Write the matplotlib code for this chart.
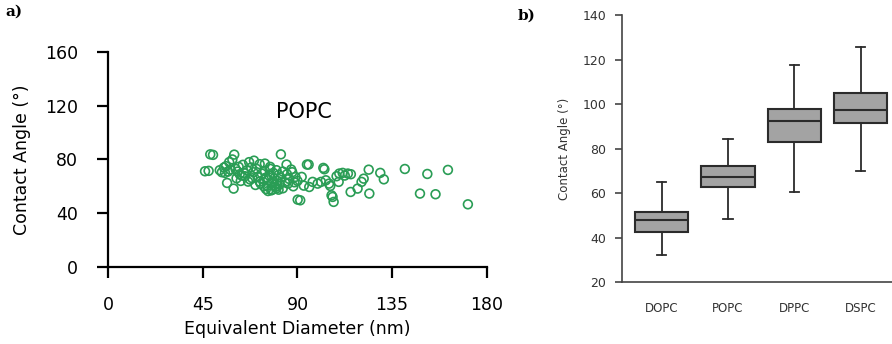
import matplotlib
matplotlib.use("Agg")
import matplotlib.pyplot as plt

# panel a) POPC vesicles: equivalent diameter (nm) vs contact angle (deg)
diameter = [46.0, 47.7, 48.5, 49.8, 59.9, 82.1, 59.6, 69.3, 74.5, 84.8,
            94.5, 95.3, 102.3, 102.8, 90.1, 91.3, 105.6, 106.2, 107.2, 106.7,
            123.9, 129.4, 131.1, 124.2, 115.3, 118.6, 120.5, 121.5, 114.0, 115.4,
            141.1, 151.8, 161.6, 148.3, 155.7, 171.1, 109.9, 108.6, 109.6, 97.2,
            95.6, 99.6, 101.2, 103.5, 105.0, 111.5, 112.5, 93.0, 92.0, 88.5,
            53.0, 54.0, 55.0, 56.0, 57.0, 57.5, 58.0, 59.0, 60.5, 61.0,
            62.0, 62.5, 63.0, 64.0, 64.5, 65.0, 66.0, 66.5, 67.0, 68.0,
            68.5, 69.0, 70.0, 70.5, 71.0, 72.0, 72.5, 73.0, 74.0, 74.5,
            75.0, 75.5, 76.0, 76.5, 77.0, 77.5, 78.0, 78.5, 79.0, 79.5,
            80.0, 80.5, 81.0, 81.5, 82.0, 83.0, 84.0, 85.0, 86.0, 87.0,
            88.0, 89.0, 90.0, 76.0, 78.0, 80.0, 74.0, 72.0, 79.0, 81.0,
            77.0, 75.0, 83.0, 85.5, 87.5, 67.5, 63.5, 56.5, 55.5, 61.5]
angle = [71.2, 71.5, 83.8, 83.4, 83.6, 83.8, 58.3, 79.1, 76.9, 76.2,
         76.2, 76.2, 73.7, 72.7, 50.1, 49.6, 60.3, 53.3, 48.4, 52.1,
         72.4, 70.0, 65.2, 54.6, 55.8, 58.3, 63.3, 65.7, 69.5, 69.0,
         72.9, 69.2, 72.2, 54.6, 54.1, 46.6, 69.5, 67.5, 63.3, 63.3,
         59.5, 62.0, 63.3, 64.5, 62.0, 70.0, 68.0, 60.5, 67.0, 63.0,
         72.0, 70.5, 74.0, 75.0, 71.0, 78.0, 72.5, 80.0, 73.0, 66.0,
         74.5, 69.0, 64.0, 76.0, 70.0, 67.5, 72.0, 63.5, 78.0, 74.0,
         66.0, 70.5, 61.0, 73.0, 67.0, 76.5, 62.0, 69.5, 65.0, 71.5,
         58.0, 60.5, 64.5, 68.0, 73.0, 57.0, 62.5, 70.0, 66.0, 59.5,
         72.0, 64.0, 68.5, 61.5, 66.5, 71.0, 63.0, 69.0, 65.5, 72.5,
         60.0, 67.0, 64.0, 56.5, 57.5, 58.5, 60.0, 63.5, 61.0, 57.5,
         74.5, 66.5, 58.5, 62.0, 70.5, 65.0, 68.0, 62.5, 70.0, 71.0]

# panel b) box statistics per lipid
lipids = ["DOPC", "POPC", "DPPC", "DSPC"]
whisk_lo = [32.3, 48.4, 60.4, 70.0]
q1 = [42.6, 62.6, 83.0, 91.4]
med = [47.9, 67.4, 92.3, 97.4]
q3 = [51.4, 72.4, 97.9, 104.8]
whisk_hi = [64.9, 84.5, 117.6, 125.8]

fig = plt.figure(figsize=(8.92, 3.44), dpi=100)

# ---- a) scatter
ax1 = fig.add_axes([0.1215, 0.224, 0.424, 0.625])
ax1.scatter(diameter, angle, s=40, facecolors="none", edgecolors="#2a9d55",
            linewidths=1.2)
ax1.set_xlim(0, 180)
ax1.set_ylim(0, 160)
ax1.set_xticks([0, 45, 90, 135, 180])
ax1.set_yticks([0, 40, 80, 120, 160])
for s in ["top", "right"]:
    ax1.spines[s].set_visible(False)
for s in ["left", "bottom"]:
    ax1.spines[s].set_linewidth(1.6)
ax1.tick_params(axis="both", length=8, width=1.6, labelsize=12.5, pad=14)
ax1.tick_params(axis="x", pad=13)
ax1.set_xlabel("Equivalent Diameter (nm)", fontsize=12.5, labelpad=4)
ax1.set_ylabel("Contact Angle (°)", fontsize=12.5, labelpad=10)
ax1.text(93, 115, "POPC", fontsize=15, ha="center", va="center")

# ---- b) box plot
ax2 = fig.add_axes([0.697, 0.180, 0.303, 0.776])
stats = []
for i in range(len(lipids)):
    stats.append({"whislo": whisk_lo[i], "q1": q1[i], "med": med[i],
                  "q3": q3[i], "whishi": whisk_hi[i], "fliers": [],
                  "label": lipids[i]})
ax2.bxp(stats, positions=[1, 2, 3, 4], widths=0.8, capwidths=0.14,
        patch_artist=True, showfliers=False,
        boxprops=dict(facecolor="#a3a3a3", edgecolor="#2b2b2b", linewidth=1.5),
        medianprops=dict(color="#2b2b2b", linewidth=1.5),
        whiskerprops=dict(color="#2b2b2b", linewidth=1.3),
        capprops=dict(color="#2b2b2b", linewidth=1.3))
ax2.set_xlim(0.4, 4.47)
ax2.set_ylim(20, 140)
ax2.set_yticks([20, 40, 60, 80, 100, 120, 140])
for s in ["top", "right"]:
    ax2.spines[s].set_visible(False)
for s in ["left", "bottom"]:
    ax2.spines[s].set_linewidth(1.2)
    ax2.spines[s].set_color("#444444")
ax2.tick_params(axis="y", length=5, width=1.2, color="#444444",
                labelsize=9, labelcolor="#333333", pad=6)
ax2.tick_params(axis="x", length=0, labelsize=8.5, labelcolor="#333333", pad=14)
ax2.set_ylabel("Contact Angle (°)", fontsize=8.5, color="#333333", labelpad=8)

fig.text(0.006, 0.965, "a)", fontsize=11, fontweight="bold", family="DejaVu Serif",
         va="center")
fig.text(0.580, 0.955, "b)", fontsize=11, fontweight="bold", family="DejaVu Serif",
         va="center")

fig.savefig("out.png", dpi=100)
